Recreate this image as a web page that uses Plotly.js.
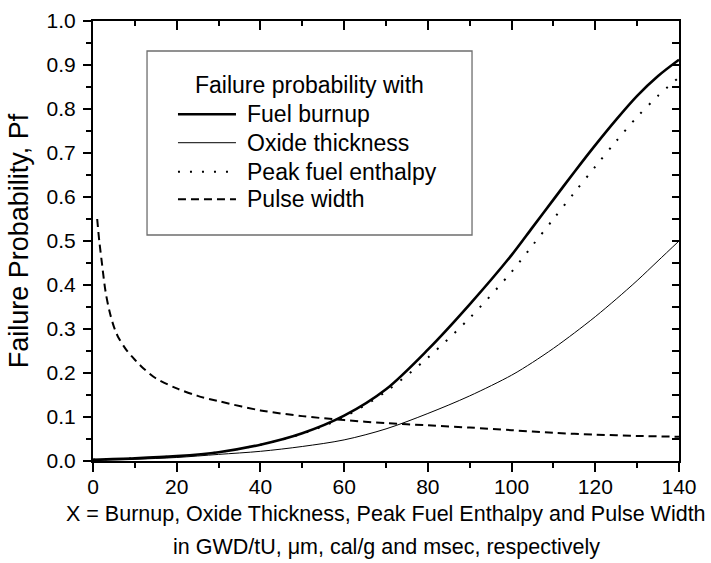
<!DOCTYPE html>
<html>
<head>
<meta charset="utf-8">
<script src="https://cdn.plot.ly/plotly-3.0.1.min.js"></script>
<style>
  html, body { margin: 0; padding: 0; background: #fff; overflow: hidden; }
  #chart { width: 711px; height: 563px; }
</style>
</head>
<body>
<div id="chart"></div>
<script>
// Failure probability curves versus the normalised variable X
const xGrid = [0, 10, 20, 30, 40, 50, 60, 70, 80, 90, 100, 105, 110, 115, 120, 125, 130, 135, 140];
const fuelBurnup = [0.003, 0.006, 0.011, 0.02, 0.037, 0.063, 0.103, 0.163, 0.253, 0.356, 0.468, 0.531, 0.594, 0.657, 0.718, 0.776, 0.83, 0.875, 0.912];
const oxideThickness = [0.002, 0.004, 0.008, 0.015, 0.022, 0.033, 0.048, 0.073, 0.108, 0.148, 0.195, 0.224, 0.256, 0.291, 0.328, 0.368, 0.41, 0.455, 0.5];
const peakEnthalpy = [0.003, 0.006, 0.011, 0.02, 0.037, 0.062, 0.1, 0.158, 0.235, 0.325, 0.43, 0.49, 0.55, 0.61, 0.669, 0.727, 0.782, 0.83, 0.872];

const pulseX = [1, 1.5, 2, 3, 4, 5, 6, 8, 10, 12, 15, 20, 25, 30, 40, 50, 60, 70, 80, 90, 100, 110, 120, 130, 140];
const pulseWidth = [0.55, 0.5, 0.46, 0.385, 0.338, 0.305, 0.282, 0.252, 0.23, 0.211, 0.188, 0.165, 0.148, 0.136, 0.115, 0.102, 0.093, 0.086, 0.081, 0.076, 0.07, 0.064, 0.06, 0.057, 0.055];

const legendTitle = 'Failure probability with';
const seriesNames = ['Fuel burnup', 'Oxide thickness', 'Peak fuel enthalpy', 'Pulse width'];
const xTitleLines = ['X = Burnup, Oxide Thickness, Peak Fuel Enthalpy and Pulse Width',
                     'in GWD/tU, μm, cal/g and msec, respectively'];
const yTitle = 'Failure Probability, Pf';

const xTicks = [0, 20, 40, 60, 80, 100, 120, 140];
const yTicks = [0.0, 0.1, 0.2, 0.3, 0.4, 0.5, 0.6, 0.7, 0.8, 0.9, 1.0];
const yTickText = yTicks.map(v => v.toFixed(1));

const FONT = 'Liberation Sans, Arial, Helvetica, sans-serif';

const styles = [
  { color: '#000', width: 2.6, dash: 'solid' },
  { color: '#000', width: 1, dash: 'solid' },
  { color: '#000', width: 2, dash: '2px,10px' },
  { color: '#000', width: 2, dash: '8px,5px' }
];

function curve(x, y, i, axes) {
  return Object.assign({
    type: 'scatter', mode: 'lines', x: x, y: y, name: seriesNames[i],
    showlegend: false, hoverinfo: 'skip',
    line: Object.assign({ shape: 'spline', smoothing: 0.9 }, styles[i])
  }, axes || {});
}

const traces = [
  curve(xGrid, oxideThickness, 1),
  curve(pulseX, pulseWidth, 3),
  curve(xGrid, fuelBurnup, 0),
  // the dotted curve is plotted on the inner-tick top/right axis pair (same ranges)
  curve(xGrid, peakEnthalpy, 2, { xaxis: 'x2', yaxis: 'y2' })
];

// Boxed key drawn in plot-paper coordinates
const box = { x0: 0.0922, x1: 0.6468, y0: 0.5136, y1: 0.9318 };
const keyRows = [0.788, 0.7234, 0.6575, 0.5948];
const sampleX = [0.145, 0.244];
const textX = 0.2594;
const keyFont = { family: FONT, size: 23, color: '#000' };

const shapes = [{
  type: 'rect', xref: 'paper', yref: 'paper',
  x0: box.x0, x1: box.x1, y0: box.y0, y1: box.y1,
  line: { color: '#6e6e6e', width: 1.3 }, fillcolor: 'rgba(0,0,0,0)'
}];
const annotations = [{
  xref: 'paper', yref: 'paper', x: 0.1706, y: 0.8545, xanchor: 'left', yanchor: 'middle',
  text: legendTitle, showarrow: false, font: keyFont
}];
seriesNames.forEach((name, i) => {
  shapes.push({
    type: 'line', xref: 'paper', yref: 'paper',
    x0: sampleX[0], x1: sampleX[1], y0: keyRows[i], y1: keyRows[i],
    line: { color: styles[i].color, width: styles[i].width, dash: styles[i].dash }
  });
  annotations.push({
    xref: 'paper', yref: 'paper', x: textX, y: keyRows[i], xanchor: 'left', yanchor: 'middle',
    text: name, showarrow: false, font: keyFont
  });
});

// two-line x caption below the axis
const captionY = [-0.1205, -0.1955];
xTitleLines.forEach((t, i) => {
  annotations.push({
    xref: 'paper', yref: 'paper', x: 0.5, y: captionY[i], xanchor: 'center', yanchor: 'middle',
    text: t, showarrow: false, font: { family: FONT, size: 21.5, color: '#000' }
  });
});

const axisCommon = {
  showline: true, linecolor: '#000', linewidth: 2,
  showgrid: false, zeroline: false, tickwidth: 2, tickcolor: '#000',
  tickfont: { family: FONT, size: 21, color: '#000' }
};

const layout = {
  width: 711, height: 563,
  margin: { l: 93, r: 32, t: 21, b: 102 },
  paper_bgcolor: '#fff', plot_bgcolor: '#fff',
  font: { family: FONT, color: '#000' },
  showlegend: false,
  xaxis: Object.assign({}, axisCommon, {
    range: [0, 140], tickmode: 'array', tickvals: xTicks, ticktext: xTicks.map(String),
    ticks: 'outside', ticklen: 9, ticklabelstandoff: -3, mirror: true,
    minor: { ticks: 'outside', ticklen: 5, tickwidth: 2, tickcolor: '#000', tickmode: 'linear', tick0: 0, dtick: 10 }
  }),
  yaxis: Object.assign({}, axisCommon, {
    range: [0, 1.0], tickmode: 'array', tickvals: yTicks, ticktext: yTickText,
    ticks: 'outside', ticklen: 8, ticklabelstandoff: 3, mirror: true,
    minor: { ticks: 'outside', ticklen: 5, tickwidth: 2, tickcolor: '#000', tickmode: 'linear', tick0: 0, dtick: 0.05 },
    title: { text: yTitle, font: { family: FONT, size: 27, color: '#000' }, standoff: 10 }
  }),
  xaxis2: Object.assign({}, axisCommon, {
    overlaying: 'x', anchor: 'y2', side: 'top', range: [0, 140],
    tickmode: 'linear', tick0: 0, dtick: 20, ticks: 'inside', ticklen: 9, showticklabels: false,
    minor: { ticks: 'inside', ticklen: 5, tickwidth: 2, tickcolor: '#000', tickmode: 'linear', tick0: 0, dtick: 10 }
  }),
  yaxis2: Object.assign({}, axisCommon, {
    overlaying: 'y', anchor: 'x2', side: 'right', range: [0, 1.0],
    tickmode: 'linear', tick0: 0, dtick: 0.1, ticks: 'inside', ticklen: 7, showticklabels: false,
    minor: { ticks: 'inside', ticklen: 7, tickwidth: 2, tickcolor: '#000', tickmode: 'linear', tick0: 0, dtick: 0.05 }
  }),
  shapes: shapes,
  annotations: annotations
};

Plotly.newPlot('chart', traces, layout, { displayModeBar: false, staticPlot: true });
</script>
</body>
</html>
